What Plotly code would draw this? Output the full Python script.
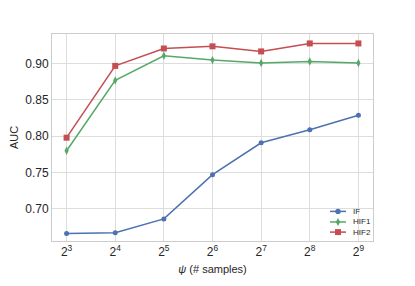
import plotly.graph_objects as go

exponents = [3, 4, 5, 6, 7, 8, 9]
tick_labels = ["2<sup>%d</sup>" % e for e in exponents]
auc_if = [0.666, 0.667, 0.686, 0.747, 0.791, 0.809, 0.829]
auc_hif1 = [0.780, 0.877, 0.911, 0.905, 0.901, 0.903, 0.901]
auc_hif2 = [0.798, 0.897, 0.921, 0.924, 0.917, 0.928, 0.928]
y_ticks = [0.70, 0.75, 0.80, 0.85, 0.90]

FONT = "Liberation Sans, Arial, sans-serif"
fig = go.Figure()
series = [
    ("IF", auc_if, "#4C72B0", "circle", 5),
    ("HIF1", auc_hif1, "#55A868", "diamond-tall", 6),
    ("HIF2", auc_hif2, "#C44E52", "square", 6),
]
for name, vals, col, sym, sz in series:
    fig.add_trace(go.Scatter(
        x=exponents, y=vals, name=name, mode="lines+markers",
        line=dict(color=col, width=1.5),
        marker=dict(symbol=sym, size=sz, color=col),
        showlegend=False,
    ))

# compact legend drawn with shapes/annotations (paper coords)
leg_rows = [0.143, 0.092, 0.043]
lx0, lx1, lm, lt = 0.866, 0.916, 0.891, 0.93
shapes = []
annos = []
for (name, vals, col, sym, sz), ly in zip(series, leg_rows):
    shapes.append(dict(type="line", xref="paper", yref="paper", x0=lx0, x1=lx1, y0=ly, y1=ly,
                       line=dict(color=col, width=1.5)))
    if sym == "circle":
        shapes.append(dict(type="circle", xref="paper", yref="paper", xsizemode="pixel", ysizemode="pixel",
                           xanchor=lm, yanchor=ly, x0=-2.7, x1=2.7, y0=-2.7, y1=2.7,
                           fillcolor=col, line=dict(color=col, width=0)))
    elif sym == "square":
        shapes.append(dict(type="rect", xref="paper", yref="paper", xsizemode="pixel", ysizemode="pixel",
                           xanchor=lm, yanchor=ly, x0=-3, x1=3, y0=-3, y1=3,
                           fillcolor=col, line=dict(color=col, width=0)))
    else:
        shapes.append(dict(type="path", xref="paper", yref="paper", xsizemode="pixel", ysizemode="pixel",
                           xanchor=lm, yanchor=ly, path="M -2.2 0 L 0 4 L 2.2 0 L 0 -4 Z",
                           fillcolor=col, line=dict(color=col, width=0)))
    annos.append(dict(text=name, xref="paper", yref="paper", x=lt, y=ly, xanchor="left", yanchor="middle",
                      showarrow=False, font=dict(family=FONT, size=8, color="#262626")))

axis_common = dict(showgrid=True, gridcolor="#dddddd", gridwidth=1,
                   showline=True, linecolor="#cccccc", linewidth=1, mirror=True,
                   zeroline=False, ticks="", automargin=False,
                   tickfont=dict(family=FONT, size=12, color="#262626"))

# page body has an 8px default margin; figure sized/margined to compensate
fig.update_layout(
    width=407, height=278,
    margin=dict(l=44, r=42, t=26, b=45),
    paper_bgcolor="white", plot_bgcolor="white",
    font=dict(family=FONT, color="#262626"),
    xaxis=dict(range=[2.70, 9.30], tickvals=exponents, ticktext=tick_labels,
               title=dict(text="<i>ψ</i> (# samples)", font=dict(size=11), standoff=6),
               **axis_common),
    yaxis=dict(range=[0.6555, 0.941], tickvals=y_ticks,
               ticktext=["%.2f" % v for v in y_ticks],
               title=dict(text="AUC", font=dict(size=11), standoff=6),
               **axis_common),
    shapes=shapes,
    annotations=annos,
    showlegend=False,
)

fig.write_html("out.html")
